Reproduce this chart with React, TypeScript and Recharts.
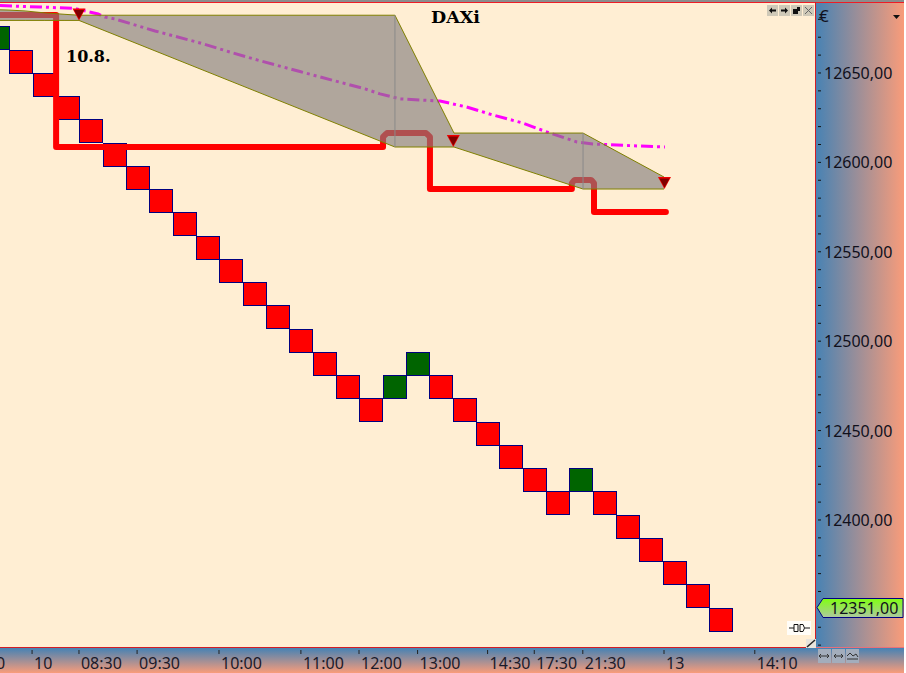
import { Area, Bar, ComposedChart, Line, ReferenceLine, Scatter, XAxis, YAxis } from "recharts";

const CREAM = "#ffeed3";
const SKY = "#4682b4";
const SALMON = "#f99c7a";
const NAVY = "#000080";
const FONT = '"Noto Sans", sans-serif';
const TITLE_FONT = '"DejaVu Serif", serif';

// renko bricks, top of each brick in points
const brickHighs = [
  12676, 12663, 12650, 12637, 12624, 12611, 12598, 12585, 12572, 12559, 12546, 12533, 12520, 12507, 12494, 12481,
  12468, 12481, 12494, 12481, 12468, 12455, 12442, 12429, 12416, 12429, 12416, 12403, 12390, 12377, 12364, 12351,
];
const upBricks = [0, 17, 18, 25];
const brickSize = 13;

const bandSlots = [-1.18, 0.45, 1.18, 2.03, 2.89, 3.49, 17.03, 19.56, 25.09, 28.56];
const bandHighs = [12685.8, 12685.2, 12684.7, 12683.6, 12682.8, 12682.3, 12682.3, 12616.4, 12616.4, 12591.8];
const bandLows = [12679.4, 12679.4, 12679.4, 12679.4, 12679.4, 12679.4, 12608.6, 12608.6, 12585.1, 12585.1];

const stopSlots = [
  -1.18, 2.51, 2.51, 16.52, 16.52, 16.65, 16.69, 18.36, 18.4, 18.53, 18.53, 24.61, 24.61, 24.7, 24.74, 25.43, 25.47,
  25.56, 25.56, 28.64,
];
const stopValues = [
  12682.4, 12682.4, 12608.6, 12608.6, 12614.2, 12615.9, 12616.4, 12616.4, 12615.9, 12614.2, 12585.1, 12585.1, 12588.4,
  12589.8, 12590.2, 12590.2, 12589.8, 12588.4, 12572.3, 12572.3,
];

const avgSlots = [
  -1.18, 1.82, 3.32, 4.31, 4.6, 5.03, 6.75, 8.68, 10.09, 11.12, 12.96, 15.75, 16.39, 17.25, 18.96, 20.1, 21.23, 22.51,
  23.54, 24.83, 25.51, 27.4, 28.6,
];
const avgValues = [
  12688.3, 12686.9, 12686.1, 12683, 12681.3, 12680.2, 12673.5, 12666.8, 12661.2, 12657.3, 12650.8, 12641.1, 12638.3,
  12635.5, 12634.3, 12631, 12626.5, 12622, 12617, 12611.4, 12610.3, 12609.2, 12608.6,
];

const signalSlots = [3.49, 19.53, 28.58];
const signalValues = [12679.4, 12608.6, 12585.1];

const timeSlots = [-0.15, 1.48, 3.49, 5.98, 9.49, 13, 15.49, 18, 21, 23, 25.08, 28.56, 32.45];
const timeLabels = ["0", "10", "08:30", "09:30", "10:00", "11:00", "12:00", "13:00", "14:30", "17:30", "21:30", "13", "14:10"];

const priceTicks = [
  12330, 12340, 12350, 12360, 12370, 12380, 12390, 12400, 12410, 12420, 12430, 12440, 12450, 12460, 12470, 12480,
  12490, 12500, 12510, 12520, 12530, 12540, 12550, 12560, 12570, 12580, 12590, 12600, 12610, 12620, 12630, 12640,
  12650, 12660, 12670, 12680,
];
const priceLabels = [12400, 12450, 12500, 12550, 12600, 12650];
const lastPrice = "12351,00";

const bricks = brickHighs.map((high, i) => ({ x: i, range: [high - brickSize, high] }));
const band = bandSlots.map((x, i) => ({ x, range: [bandLows[i], bandHighs[i]] }));
const stop = stopSlots.map((x, i) => ({ x, y: stopValues[i] }));
const avg = avgSlots.map((x, i) => ({ x, y: avgValues[i] }));
const signals = signalSlots.map((x, i) => ({ x, y: signalValues[i] }));

// on a number axis the bar comes back with no width, so the brick is drawn around its centre
function Brick({ x, y, width, height, payload }: any) {
  const w = 23;
  return (
    <rect
      x={Math.round(x + width / 2 - w / 2) + 0.5}
      y={Math.round(y) + 0.5}
      width={w}
      height={Math.round(height)}
      fill={upBricks.includes(payload.x) ? "#006400" : "#ff0000"}
      stroke={NAVY}
      strokeWidth={1}
    />
  );
}

function TimeTick({ x, y, index }: any) {
  return (
    <g>
      <line x1={x} x2={x} y1={y} y2={y + 4} stroke="#222" />
      <text x={x + 2} y={y + 19} fontSize={16} fontFamily={FONT} fill="#1a1a2a">
        {timeLabels[index]}
      </text>
    </g>
  );
}

function PriceTick({ x, y, payload }: any) {
  return (
    <g>
      <line x1={x + 1} x2={x + 4} y1={y} y2={y} stroke="#111" />
      {priceLabels.includes(payload.value) && (
        <text x={x + 7} y={y + 6} fontSize={16} fontFamily={FONT} fill="#10101c">
          {`${payload.value},00`}
        </text>
      )}
    </g>
  );
}

function SignalMark({ cx, cy }: any) {
  return (
    <g>
      <polygon points={`${cx - 6.5},${cy - 12} ${cx + 6.5},${cy - 12} ${cx},${cy}`} fill="#f00000" />
      <polygon points={`${cx - 5},${cy - 10.5} ${cx + 5},${cy - 10.5} ${cx},${cy - 1.5}`} fill="#800000" />
    </g>
  );
}

function WindowButtons() {
  const glyphs = ["M2 5.5 L5 2.5 V4.5 H9 V6.5 H5 V8.5 Z", "M9 5.5 L6 2.5 V4.5 H2 V6.5 H6 V8.5 Z", "M2 4 H6 V2 H9 V6 H7 V9 H2 Z", "M2 2 L9 9 M9 2 L2 9"];
  return (
    <svg width={48} height={11} style={{ position: "absolute", left: 767, top: 5 }}>
      {glyphs.map((d, i) => (
        <g key={i} transform={`translate(${i * 12},0)`}>
          <rect width={11} height={11} fill="#cfc9b8" />
          <path d={d} fill={i < 3 ? "#111" : "none"} stroke={i < 3 ? "none" : "#666"} />
        </g>
      ))}
    </svg>
  );
}

export default function App() {
  return (
    <div style={{ position: "absolute", left: 0, top: 0, width: 906, height: 673, overflow: "hidden", background: CREAM }}>
      <div style={{ position: "absolute", left: 815, top: 0, width: 89, height: 648, background: `linear-gradient(to right, ${SKY}, ${SALMON})` }} />
      <div style={{ position: "absolute", left: 0, top: 648, width: 904, height: 25, background: `linear-gradient(to bottom, ${SKY}, ${SALMON})` }} />
      <div style={{ position: "absolute", left: 904, top: 0, width: 2, height: 673, background: "#fff" }} />

      <div style={{ position: "absolute", left: -30, top: 0 }}>
        <ComposedChart width={936} height={673} data={bricks} margin={{ top: 2, right: 0, bottom: 0, left: 0 }}>
          <XAxis
            type="number"
            dataKey="x"
            domain={[-1.18, 35.03]}
            allowDataOverflow
            ticks={timeSlots}
            interval={0}
            height={25}
            tickLine={false}
            tickSize={0}
            axisLine={false}
            tick={<TimeTick />}
          />
          <YAxis
            orientation="right"
            width={91}
            domain={[12328.4, 12689.7]}
            allowDataOverflow
            ticks={priceTicks}
            interval={0}
            tickLine={false}
            tickSize={0}
            axisLine={false}
            tick={<PriceTick />}
          />
          <Bar dataKey="range" shape={<Brick />} isAnimationActive={false} zIndex={100} />
          <Line
            data={stop}
            dataKey="y"
            stroke="#ff0000"
            strokeWidth={6}
            strokeLinejoin="round"
            strokeLinecap="round"
            dot={false}
            isAnimationActive={false}
            zIndex={200}
          />
          <Line
            data={avg}
            dataKey="y"
            stroke="#ff00ff"
            strokeWidth={3}
            strokeDasharray="12 4 3 4 3 4"
            dot={false}
            isAnimationActive={false}
            zIndex={210}
          />
          <Area
            data={band}
            dataKey="range"
            type="linear"
            fill="#837d7d"
            fillOpacity={0.64}
            stroke="#808000"
            strokeWidth={1}
            dot={false}
            isAnimationActive={false}
            zIndex={300}
          />
          <ReferenceLine segment={[{ x: 17.03, y: 12682.3 }, { x: 17.03, y: 12608.6 }]} stroke="#8a8a8a" zIndex={310} />
          <ReferenceLine segment={[{ x: 25.09, y: 12616.4 }, { x: 25.09, y: 12585.1 }]} stroke="#8a8a8a" zIndex={310} />
          <Scatter data={signals} dataKey="y" shape={<SignalMark />} isAnimationActive={false} zIndex={400} />
        </ComposedChart>
      </div>

      <div style={{ position: "absolute", left: 0, top: 0, width: 904, height: 2, background: "#8c8c8c" }} />
      <div style={{ position: "absolute", left: 0, top: 2, width: 904, height: 1, background: "#ee1c25" }} />
      <div style={{ position: "absolute", left: 815, top: 2, width: 1, height: 646, background: "#d21c25" }} />
      <div style={{ position: "absolute", left: 0, top: 647, width: 816, height: 1, background: "#d21c25" }} />
      <div style={{ position: "absolute", left: 816, top: 647, width: 88, height: 1, background: "#e8707a" }} />

      <div style={{ position: "absolute", left: 431, top: 7, fontFamily: TITLE_FONT, fontWeight: 700, fontSize: 17.5, color: "#000" }}>DAXi</div>
      <div style={{ position: "absolute", left: 66, top: 47, fontFamily: TITLE_FONT, fontWeight: 700, fontSize: 16, color: "#000" }}>10.8.</div>
      <div style={{ position: "absolute", left: 819, top: 4, fontFamily: FONT, fontSize: 17, color: "#10101c" }}>€</div>

      <WindowButtons />
      <svg width={8} height={5} style={{ position: "absolute", left: 893, top: 15 }}>
        <polygon points="0,0 7,0 3.5,4" fill="#111" />
      </svg>

      <svg width={90} height={24} style={{ position: "absolute", left: 815, top: 597 }}>
        <defs>
          <linearGradient id="priceBadge" x1="0" y1="0" x2="0" y2="1">
            <stop offset="0%" stopColor="#80ff10" />
            <stop offset="100%" stopColor="#aec8a0" />
          </linearGradient>
        </defs>
        <polygon points="2,10.5 8,1.5 88,1.5 88,20.5 8,20.5" fill="url(#priceBadge)" stroke={NAVY} />
        <text x={15} y={17} fontSize={16} fontFamily={FONT} fill="#10101c">
          {lastPrice}
        </text>
      </svg>

      <svg width={24} height={14} style={{ position: "absolute", left: 787, top: 621 }}>
        <rect width={24} height={14} fill="#fffdf8" />
        <path d="M2 7 H7 M7 3.5 H11 V10.5 H7 Z M13 3.5 H16 Q19 7 16 10.5 H13 Z M18 7 H23" fill="none" stroke="#111" />
      </svg>

      <svg width={10} height={9} style={{ position: "absolute", left: 806, top: 639 }}>
        <rect width={10} height={9} fill="#e8e4dc" />
        <path d="M1 8 L9 1" stroke="#222" strokeWidth={1.5} />
      </svg>

      <svg width={42} height={14} style={{ position: "absolute", left: 818, top: 649 }}>
        {[0, 14, 28].map((x) => (
          <rect key={x} x={x} width={13} height={14} fill="#a3adbc" />
        ))}
        <path d="M2 7 H11 M3 5 L1 7 L3 9 M9 5 L11 7 L9 9 M16 7 H25 M18 5 L16 7 L18 9 M23 5 L25 7 L23 9 M29 7 L32 4 L35 7 L38 5 L40 8 M29 10 H40" fill="none" stroke="#333" />
      </svg>
    </div>
  );
}
